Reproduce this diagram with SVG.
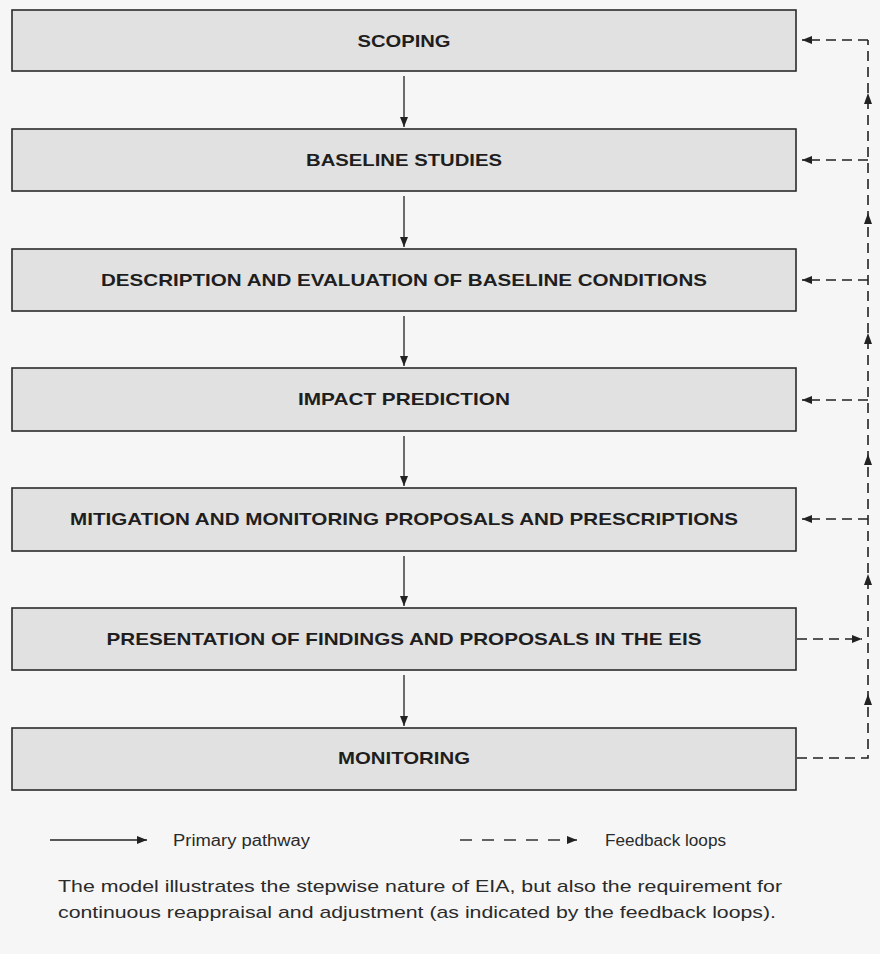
<svg xmlns="http://www.w3.org/2000/svg" width="880" height="954" viewBox="0 0 880 954">
  <style>
    .box { fill: #e1e1e1; stroke: #2b2b2b; stroke-width: 1.6; }
    .lbl { font-family: "Liberation Sans", Arial, sans-serif; font-weight: bold; font-size: 17px; fill: #1e1e1e; text-anchor: middle; }
    .solid { fill: none; stroke: #222; stroke-width: 1.3; }
    .dash { fill: none; stroke: #222; stroke-width: 1.6; stroke-dasharray: 10 6; }
    .legdash { fill: none; stroke: #333; stroke-width: 1.3; stroke-dasharray: 12 10; }
    .txt { font-family: "Liberation Sans", Arial, sans-serif; fill: #2a2a2a; }
    .head { fill: #222; }
  </style>
  <defs>
    <marker id="ah" viewBox="0 0 10 8" refX="10" refY="4" markerWidth="11" markerHeight="8" markerUnits="userSpaceOnUse" orient="auto">
      <path d="M0 0 L10 4 L0 8 z" fill="#222"/>
    </marker>
    <marker id="ahs" viewBox="0 0 10 8" refX="10" refY="4" markerWidth="11" markerHeight="8" markerUnits="userSpaceOnUse" orient="auto">
      <path d="M0 0 L10 4 L0 8 z" fill="#222"/>
    </marker>
    <path id="up" d="M0 0 L4 11 L-4 11 z"/>
  </defs>

  <rect x="0" y="0" width="880" height="954" fill="#f6f6f6"/>

  <!-- process steps -->
  <g id="scoping">
    <rect class="box" x="12" y="10" width="784" height="61"/>
    <text class="lbl" x="404" y="47" textLength="93" lengthAdjust="spacingAndGlyphs">SCOPING</text>
  </g>
  <g id="baseline-studies">
    <rect class="box" x="12" y="129" width="784" height="62"/>
    <text class="lbl" x="404" y="166" textLength="196" lengthAdjust="spacingAndGlyphs">BASELINE STUDIES</text>
  </g>
  <g id="baseline-conditions">
    <rect class="box" x="12" y="249" width="784" height="62"/>
    <text class="lbl" x="404" y="286" textLength="606" lengthAdjust="spacingAndGlyphs">DESCRIPTION AND EVALUATION OF BASELINE CONDITIONS</text>
  </g>
  <g id="impact-prediction">
    <rect class="box" x="12" y="368" width="784" height="63"/>
    <text class="lbl" x="404" y="405" textLength="212" lengthAdjust="spacingAndGlyphs">IMPACT PREDICTION</text>
  </g>
  <g id="mitigation">
    <rect class="box" x="12" y="488" width="784" height="63"/>
    <text class="lbl" x="404" y="525" textLength="668" lengthAdjust="spacingAndGlyphs">MITIGATION AND MONITORING PROPOSALS AND PRESCRIPTIONS</text>
  </g>
  <g id="presentation">
    <rect class="box" x="12" y="608" width="784" height="62"/>
    <text class="lbl" x="404" y="645" textLength="595" lengthAdjust="spacingAndGlyphs">PRESENTATION OF FINDINGS AND PROPOSALS IN THE EIS</text>
  </g>
  <g id="monitoring">
    <rect class="box" x="12" y="728" width="784" height="62"/>
    <text class="lbl" x="404" y="764" textLength="132" lengthAdjust="spacingAndGlyphs">MONITORING</text>
  </g>

  <g id="connectors">
    <!-- primary pathway -->
    <path class="solid" d="M404 76 V127" marker-end="url(#ah)"/>
    <path class="solid" d="M404 196 V247" marker-end="url(#ah)"/>
    <path class="solid" d="M404 316 V366" marker-end="url(#ah)"/>
    <path class="solid" d="M404 436 V486" marker-end="url(#ah)"/>
    <path class="solid" d="M404 556 V606" marker-end="url(#ah)"/>
    <path class="solid" d="M404 675 V726" marker-end="url(#ah)"/>

    <!-- feedback loops -->
    <path class="dash" d="M797 758 H868 V40"/>
    <path class="dash" d="M868 40 H802" marker-end="url(#ahs)"/>
    <path class="dash" d="M868 160 H802" marker-end="url(#ahs)"/>
    <path class="dash" d="M868 280 H802" marker-end="url(#ahs)"/>
    <path class="dash" d="M868 400 H802" marker-end="url(#ahs)"/>
    <path class="dash" d="M868 519 H802" marker-end="url(#ahs)"/>
    <path class="dash" d="M797 639 H862" marker-end="url(#ahs)"/>
    <g class="head">
      <use href="#up" x="868" y="93"/>
      <use href="#up" x="868" y="213"/>
      <use href="#up" x="868" y="333"/>
      <use href="#up" x="868" y="454"/>
      <use href="#up" x="868" y="574"/>
      <use href="#up" x="868" y="694"/>
    </g>
  </g>

  <!-- key -->
  <g id="legend">
    <path class="solid" d="M50 840 H147" marker-end="url(#ahs)"/>
    <text class="txt" x="173" y="846" font-size="16" textLength="137" lengthAdjust="spacingAndGlyphs">Primary pathway</text>
    <path class="legdash" d="M460 840 H577" marker-end="url(#ahs)"/>
    <text class="txt" x="605" y="846" font-size="16" textLength="121" lengthAdjust="spacingAndGlyphs">Feedback loops</text>
  </g>

  <g id="caption">
    <text class="txt" x="58" y="892" font-size="17" textLength="724" lengthAdjust="spacingAndGlyphs">The model illustrates the stepwise nature of EIA, but also the requirement for</text>
    <text class="txt" x="58" y="918" font-size="17" textLength="718" lengthAdjust="spacingAndGlyphs">continuous reappraisal and adjustment (as indicated by the feedback loops).</text>
  </g>
</svg>
